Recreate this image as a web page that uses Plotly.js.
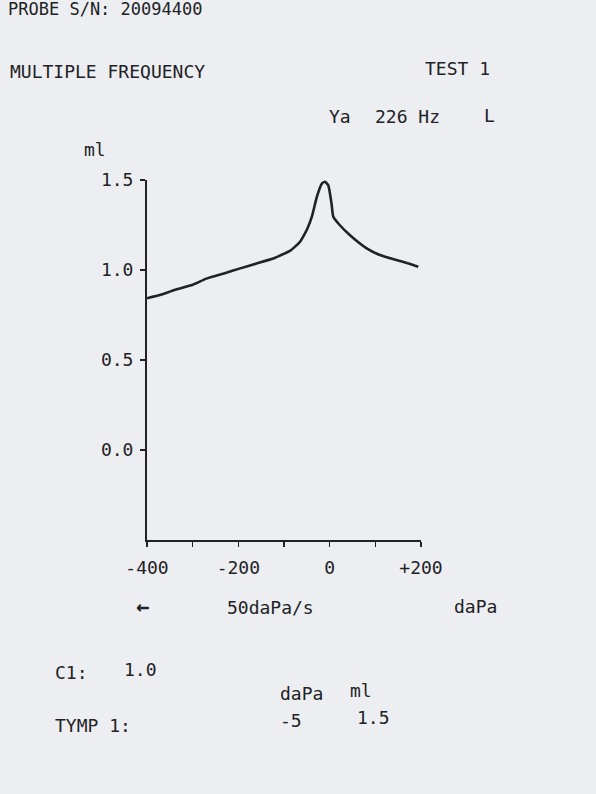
<!DOCTYPE html>
<html>
<head>
<meta charset="utf-8">
<script src="https://cdn.plot.ly/plotly-3.0.1.min.js"></script>
<style>
html,body{margin:0;padding:0;background:#eceef2;}
#chart{width:596px;height:794px;}
</style>
</head>
<body>
<div id="chart"></div>
<script>
// Tympanogram trace (pressure in daPa, admittance in ml)
const pressure = [-400, -370, -340, -300, -270, -230, -196, -160, -122, -109, -86, -80, -64, -58, -48, -39, -28, -17, -10, -3, 4, 8, 22, 44, 81, 110, 146, 175, 194];
const admittance = [0.843, 0.862, 0.889, 0.918, 0.952, 0.982, 1.009, 1.036, 1.065, 1.080, 1.108, 1.120, 1.160, 1.185, 1.235, 1.296, 1.407, 1.480, 1.490, 1.470, 1.370, 1.296, 1.250, 1.194, 1.120, 1.083, 1.056, 1.035, 1.018];

const xTickVals = [-400, -300, -200, -100, 0, 100, 200];
const xTickText = ['-400', '', '-200', '', '0', '', '+200'];
const yTickVals = [0.0, 0.5, 1.0, 1.5];
const yTickText = ['0.0', '0.5', '1.0', '1.5'];

// header / footer text
const headerProbe = 'PROBE S/N: 20094400';
const headerMode = 'MULTIPLE FREQUENCY';
const headerTest = 'TEST 1';
const headerFreq = ['Ya', '226 Hz', 'L'];
const yUnit = 'ml';
const sweepArrow = '\u2190';
const sweepRate = '50daPa/s';
const xUnit = 'daPa';
const c1Label = 'C1:';
const c1Value = '1.0';
const tympLabel = 'TYMP 1:';
const tympHeaders = ['daPa', 'ml'];
const tympValues = ['-5', '1.5'];

const W = 596, H = 794;
const L = 147, R = 421, T = 180, B = 540;
const px = x => (x - L) / (R - L);
const py = y => (B - y) / (B - T);

const FONT = 'DejaVu Sans Mono';
const INK = '#222224';

function txt(text, x, y, anchor, size, bold) {
  return {
    text: bold ? '<b>' + text + '</b>' : text, xref: 'paper', yref: 'paper',
    x: px(x), y: py(y), xanchor: anchor || 'left', yanchor: 'middle',
    showarrow: false, font: {family: FONT, size: size || 18, color: INK}
  };
}

const annotations = [
  txt(headerProbe, 6, 9, 'left', 17),
  txt(headerMode, 8, 72, 'left', 18),
  txt(headerTest, 423, 68, 'left', 18),
  txt(headerFreq[0], 327, 117, 'left', 18),
  txt(headerFreq[1], 373, 117, 'left', 18),
  txt(headerFreq[2], 482, 116, 'left', 18),
  txt(yUnit, 82, 149, 'left', 18),
  txt(sweepArrow, 134, 606, 'left', 22, true),
  txt(sweepRate, 225, 607, 'left', 18),
  txt(xUnit, 452, 606, 'left', 18),
  txt(c1Label, 53, 672, 'left', 18),
  txt(c1Value, 122, 669, 'left', 18),
  txt(tympHeaders[0], 278, 693, 'left', 18),
  txt(tympHeaders[1], 348, 690, 'left', 18),
  txt(tympLabel, 53, 725, 'left', 18),
  txt(tympValues[0], 278, 720, 'left', 18),
  txt(tympValues[1], 355, 717, 'left', 18)
];

const trace = {
  x: pressure, y: admittance, type: 'scatter', mode: 'lines',
  line: {color: INK, width: 2.6, shape: 'spline', smoothing: 0.5},
  hoverinfo: 'skip'
};

const layout = {
  width: W, height: H,
  margin: {l: L, r: W - R, t: T, b: H - B, pad: 0},
  paper_bgcolor: '#eceef2', plot_bgcolor: '#eceef2',
  showlegend: false,
  xaxis: {
    range: [-400, 200], tickvals: xTickVals, ticktext: xTickText,
    showgrid: false, zeroline: false, showline: true, linecolor: INK, linewidth: 2,
    ticks: 'outside', ticklen: 5, tickwidth: 1.5, tickcolor: INK,
    ticklabelstandoff: 5,
    tickfont: {family: FONT, size: 18, color: INK}, fixedrange: true
  },
  yaxis: {
    range: [-0.5, 1.5], tickvals: yTickVals, ticktext: yTickText,
    showgrid: false, zeroline: false, showline: true, linecolor: INK, linewidth: 2,
    ticks: 'outside', ticklen: 5, tickwidth: 1.5, tickcolor: INK,
    ticklabelstandoff: 3,
    tickfont: {family: FONT, size: 18, color: INK}, fixedrange: true
  },
  annotations: annotations
};

Plotly.newPlot('chart', [trace], layout, {displayModeBar: false, staticPlot: true});
</script>
</body>
</html>
